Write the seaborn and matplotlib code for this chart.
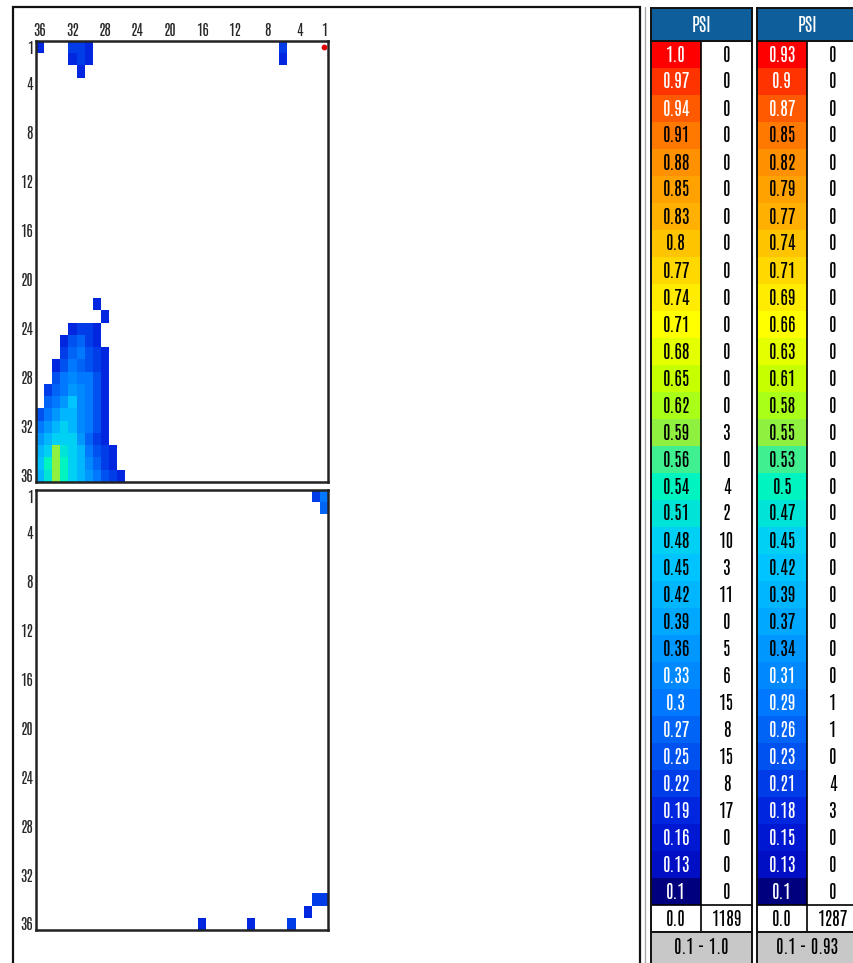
import numpy as np
import pandas as pd
import seaborn as sns
import matplotlib.pyplot as plt
from matplotlib.colors import ListedColormap, BoundaryNorm
from matplotlib.patches import Rectangle
from matplotlib.lines import Line2D

sns.set_style("white")
# tall narrow face, close to the stretched bitmap font of the original
plt.rcParams['font.family'] = ['Antonio', 'DejaVu Sans']
tick_fs, cell_fs = 11, 13

# grid: 36 x 36 cells, columns shown 36 -> 1 left to right, rows 1 -> 36 top to bottom
grid_rows = list(range(1, 37))
grid_cols = list(range(36, 0, -1))
x_ticks = [36, 32, 28, 24, 20, 16, 12, 8, 4, 1]
y_ticks = [1, 4, 8, 12, 16, 20, 24, 28, 32, 36]

# top map: the big blob, row -> first (leftmost) column + values going right
blob_rows = [24, 25, 26, 27, 28, 29, 30, 31, 32, 33, 34, 35, 36]
blob_first_col = [32, 33, 33, 34, 34, 35, 35, 36, 36, 36, 36, 36, 36]
blob_vals = [
    [0.19, 0.22, 0.22, 0.19],
    [0.19, 0.25, 0.27, 0.22, 0.19],
    [0.22, 0.27, 0.3, 0.25, 0.22, 0.19],
    [0.19, 0.25, 0.3, 0.27, 0.25, 0.22, 0.19],
    [0.25, 0.3, 0.33, 0.3, 0.3, 0.25, 0.19],
    [0.22, 0.27, 0.3, 0.36, 0.33, 0.3, 0.25, 0.19],
    [0.27, 0.3, 0.36, 0.45, 0.33, 0.3, 0.25, 0.19],
    [0.25, 0.3, 0.36, 0.42, 0.42, 0.33, 0.3, 0.25, 0.19],
    [0.3, 0.36, 0.42, 0.48, 0.42, 0.33, 0.3, 0.25, 0.19],
    [0.36, 0.42, 0.48, 0.48, 0.48, 0.36, 0.27, 0.22, 0.19],
    [0.42, 0.48, 0.59, 0.51, 0.48, 0.42, 0.3, 0.25, 0.22, 0.19],
    [0.45, 0.54, 0.59, 0.54, 0.48, 0.42, 0.33, 0.27, 0.22, 0.19],
    [0.42, 0.51, 0.59, 0.54, 0.48, 0.42, 0.36, 0.3, 0.25, 0.22, 0.19],
]
# top map: isolated spots
top_spot_rows = [1, 1, 1, 1, 2, 2, 2, 3, 1, 2, 22, 23]
top_spot_cols = [36, 32, 31, 30, 32, 31, 30, 31, 6, 6, 29, 28]
top_spot_vals = [0.19, 0.22, 0.22, 0.19, 0.19, 0.22, 0.19, 0.19, 0.22, 0.19, 0.19, 0.19]
peak_row, peak_col = 1, 1

# bottom map spots
bot_spot_rows = [1, 1, 2, 34, 34, 36, 36, 36, 35]
bot_spot_cols = [1, 2, 1, 1, 2, 16, 10, 5, 3]
bot_spot_vals = [0.29, 0.21, 0.26, 0.21, 0.21, 0.18, 0.18, 0.21, 0.18]

# legend tables (top to bottom)
colors_desc = ['#ff0000', '#ff3300', '#ff5a00', '#ff7800', '#ff9000', '#ffa200',
               '#ffb000', '#ffc400', '#ffd800', '#ffec00', '#ffff00', '#e4ff00',
               '#c6ff00', '#aaff18', '#90f040', '#40f090', '#00f4c0', '#00e4d8',
               '#00d0f4', '#00c4ff', '#00b6ff', '#00a8ff', '#0098ff', '#0088ff',
               '#0078ff', '#0064f6', '#0052f0', '#003ce8', '#0026e0', '#0018d2',
               '#000ec4', '#00007e']
labels1 = ['1.0', '0.97', '0.94', '0.91', '0.88', '0.85', '0.83', '0.8', '0.77', '0.74',
           '0.71', '0.68', '0.65', '0.62', '0.59', '0.56', '0.54', '0.51', '0.48', '0.45',
           '0.42', '0.39', '0.36', '0.33', '0.3', '0.27', '0.25', '0.22', '0.19', '0.16',
           '0.13', '0.1', '0.0']
counts1 = [0, 0, 0, 0, 0, 0, 0, 0, 0, 0, 0, 0, 0, 0, 3, 0, 4, 2, 10, 3, 11, 0, 5, 6,
           15, 8, 15, 8, 17, 0, 0, 0, 1189]
labels2 = ['0.93', '0.9', '0.87', '0.85', '0.82', '0.79', '0.77', '0.74', '0.71', '0.69',
           '0.66', '0.63', '0.61', '0.58', '0.55', '0.53', '0.5', '0.47', '0.45', '0.42',
           '0.39', '0.37', '0.34', '0.31', '0.29', '0.26', '0.23', '0.21', '0.18', '0.15',
           '0.13', '0.1', '0.0']
counts2 = [0, 0, 0, 0, 0, 0, 0, 0, 0, 0, 0, 0, 0, 0, 0, 0, 0, 0, 0, 0, 0, 0, 0, 0,
           1, 1, 0, 4, 3, 0, 0, 0, 1287]
ranges = ['0.1 - 1.0', '0.1 - 0.93']
white_text_rows = [0, 1, 2] + list(range(23, 32))

W, H = 854, 963
fig = plt.figure(figsize=(W / 100, H / 100), dpi=100)


def px_axes(x0, y0, x1, y1):
    return fig.add_axes([x0 / W, 1 - y1 / H, (x1 - x0) / W, (y1 - y0) / H])


def level_norm(labels):
    lv = np.array([float(s) for s in labels[:-1]])[::-1]
    edges = np.concatenate([[lv[0] - 0.015], (lv[:-1] + lv[1:]) / 2, [lv[-1] + 0.015]])
    cmap = ListedColormap(colors_desc[::-1])
    return cmap, BoundaryNorm(edges, cmap.N)


def draw_map(ax, df, labels, top_labels):
    cmap, norm = level_norm(labels)
    sns.heatmap(df, cmap=cmap, norm=norm, cbar=False, ax=ax,
                xticklabels=False, yticklabels=False)
    for s in ax.spines.values():
        s.set_visible(True)
        s.set_color('#222222')
        s.set_linewidth(1.8)
    ax.set_yticks([grid_rows.index(r) + 0.5 for r in y_ticks])
    ax.set_yticklabels([str(r) for r in y_ticks], fontsize=tick_fs, rotation=0)
    if top_labels:
        ax.xaxis.tick_top()
        ax.set_xticks([grid_cols.index(c) + 0.5 for c in x_ticks])
        ax.set_xticklabels([str(c) for c in x_ticks], fontsize=tick_fs, rotation=0)
    ax.tick_params(length=0, pad=2)
    ax.set_xlabel('')
    ax.set_ylabel('')


# build the two grids
top = pd.DataFrame(np.nan, index=grid_rows, columns=grid_cols)
for r, c0, vals in zip(blob_rows, blob_first_col, blob_vals):
    for k, v in enumerate(vals):
        top.loc[r, c0 - k] = v
for r, c, v in zip(top_spot_rows, top_spot_cols, top_spot_vals):
    top.loc[r, c] = v

bot = pd.DataFrame(np.nan, index=grid_rows, columns=grid_cols)
for r, c, v in zip(bot_spot_rows, bot_spot_cols, bot_spot_vals):
    bot.loc[r, c] = v

ax_top = px_axes(36, 41, 328, 482)
draw_map(ax_top, top, labels1, True)
ax_top.scatter([grid_cols.index(peak_col) + 0.5], [grid_rows.index(peak_row) + 0.5],
               s=10, color='#e00000', zorder=5)

ax_bot = px_axes(36, 490, 328, 930)
draw_map(ax_bot, bot, labels2, False)

# outer frame around the maps
fig.add_artist(Rectangle((13 / W, -0.01), (640 - 13) / W, 1.01 - 7 / H,
                         transform=fig.transFigure, fill=False, ec='#111111', lw=1.6))
fig.add_artist(Line2D([645 / W, 645 / W], [0, 1 - 7 / H], transform=fig.transFigure,
                      color='#aaaaaa', lw=1))

# legend tables
for x0, labels, counts, rng in [(651, labels1, counts1, ranges[0]),
                                (757, labels2, counts2, ranges[1])]:
    n = len(labels)
    idx = np.column_stack([np.arange(n), np.full(n, n - 1)])
    annot = np.column_stack([labels, [str(c) for c in counts]])
    ax = px_axes(x0, 41, x0 + 101, 932)
    sns.heatmap(idx, cmap=ListedColormap(colors_desc + ['white']), vmin=-0.5, vmax=n - 0.5,
                annot=annot, fmt='', cbar=False, ax=ax, xticklabels=False, yticklabels=False,
                annot_kws={'fontsize': cell_fs})
    for t in ax.texts:
        x, y = t.get_position()
        row = int(y)
        t.set_color('white' if (x < 1 and row in white_text_rows) else 'black')
    ax.axvline(1, color='black', lw=1.2)
    ax.axhline(n - 1, color='black', lw=1.2)
    for s in ax.spines.values():
        s.set_visible(True)
        s.set_color('#111111')
        s.set_linewidth(1.4)

    hd = px_axes(x0, 8, x0 + 101, 41)
    hd.set_facecolor('#0d5e9a')
    hd.set_xticks([])
    hd.set_yticks([])
    hd.text(0.5, 0.5, 'PSI', color='white', fontsize=cell_fs, ha='center', va='center',
            transform=hd.transAxes)
    for s in hd.spines.values():
        s.set_color('#111111')
        s.set_linewidth(1.4)

    ft = px_axes(x0, 932, x0 + 101, 970)
    ft.set_facecolor('#c8c8c8')
    ft.set_xticks([])
    ft.set_yticks([])
    ft.text(0.5, 0.6, rng, color='black', fontsize=cell_fs, ha='center', va='center',
            transform=ft.transAxes)
    for s in ft.spines.values():
        s.set_color('#111111')
        s.set_linewidth(1.4)

fig.savefig('out.png', dpi=100)
